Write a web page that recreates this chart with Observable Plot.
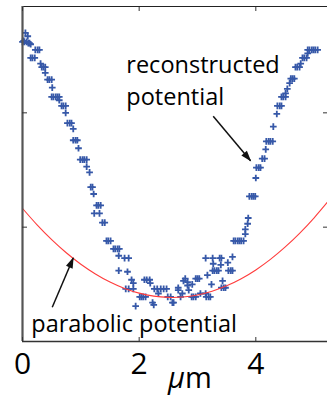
<!DOCTYPE html>
<html>
<head>
<meta charset="utf-8">
<script src="https://cdn.jsdelivr.net/npm/d3@7"></script>
<script src="https://cdn.jsdelivr.net/npm/@observablehq/plot@0.6"></script>
<style>
  html, body { margin: 0; padding: 0; background: #fff; overflow: hidden; }
  #chart svg { display: block; }
</style>
</head>
<body>
<div id="chart"></div>
<script>
// Reconstructed potential, sampled points [position (µm), potential (arb. units)]
const leftBranch = [
  [0.05,2.70],[0.09,2.67],[0.02,2.63],
  [0.00,2.62],[0.03,2.62],[0.07,2.62],
  [0.10,2.61],[0.12,2.61],[0.14,2.60],
  [0.22,2.55],[0.26,2.55],[0.29,2.55],
  [0.14,2.48],[0.17,2.48],[0.21,2.48],
  [0.31,2.43],
  [0.33,2.40],[0.36,2.40],[0.39,2.40],
  [0.39,2.35],
  [0.43,2.29],[0.46,2.29],[0.50,2.29],
  [0.51,2.22],
  [0.50,2.14],[0.53,2.14],[0.57,2.14],[0.60,2.14],[0.63,2.14],
  [0.63,2.11],
  [0.67,2.06],[0.70,2.06],[0.74,2.06],
  [0.74,2.00],
  [0.77,1.91],[0.81,1.91],[0.84,1.91],
  [0.87,1.86],
  [0.87,1.76],[0.91,1.76],[0.94,1.76],
  [0.96,1.69],
  [0.99,1.59],[1.03,1.59],[1.06,1.59],[1.10,1.59],
  [1.10,1.53],[1.15,1.48],
  [1.17,1.35],[1.20,1.35],
  [1.22,1.29],
  [1.27,1.19],[1.30,1.19],[1.34,1.19],
  [1.23,1.12],[1.32,1.12],
  [1.37,1.04],[1.41,1.04],
  [1.44,0.88],[1.47,0.88],[1.51,0.88],
  [1.56,0.81],[1.59,0.81],[1.63,0.81],[1.66,0.81],
  [1.65,0.75],[1.75,0.73],[1.82,0.73],
  [1.65,0.62],[1.80,0.61]
];
const bottomPoints = [
  [1.87,0.54],[1.90,0.51],
  [1.77,0.46],[1.82,0.46],[1.90,0.46],
  [2.09,0.54],[2.13,0.54],[2.18,0.54],[2.19,0.51],
  [2.01,0.39],[2.04,0.39],[2.07,0.39],[2.11,0.39],
  [1.94,0.31],[2.23,0.34],[2.25,0.32],
  [2.26,0.46],[2.31,0.46],[2.37,0.46],[2.42,0.46],[2.47,0.46],
  [2.33,0.42],[2.49,0.39],[2.54,0.39],[2.57,0.34],[2.59,0.34],
  [2.67,0.47],[2.67,0.45],[2.71,0.39],[2.74,0.42],
  [2.76,0.53],[2.79,0.55],[2.83,0.52],[2.83,0.49],[2.85,0.45],
  [2.90,0.39],[2.93,0.39],[2.97,0.39],
  [2.97,0.55],[3.00,0.55],[3.03,0.55],
  [2.91,0.50],[3.05,0.42],[3.14,0.42],
  [3.15,0.39],[3.19,0.39],[3.22,0.39],
  [3.17,0.58],[3.24,0.50],
  [3.41,0.47],[3.45,0.47],[3.48,0.47],[3.43,0.53]
];
const rightBranch = [
  [3.14,0.73],[3.26,0.73],[3.38,0.73],[3.41,0.73],
  [3.27,0.68],[3.40,0.67],[3.52,0.69],[3.60,0.74],
  [3.26,0.62],[3.29,0.62],[3.33,0.62],[3.36,0.62],
  [3.53,0.62],[3.57,0.62],[3.60,0.62],
  [3.62,0.88],[3.65,0.88],[3.69,0.88],[3.72,0.88],[3.75,0.88],[3.79,0.88],
  [3.82,0.94],[3.82,0.98],[3.86,1.03],[3.87,1.08],
  [3.89,1.27],[3.93,1.27],[3.96,1.27],[3.99,1.27],
  [4.00,1.43],
  [4.01,1.52],[4.05,1.52],[4.08,1.52],
  [4.11,1.60],[4.15,1.60],
  [4.17,1.68],
  [4.18,1.75],[4.22,1.75],[4.25,1.75],[4.29,1.75],
  [4.30,1.88],[4.36,1.99],
  [4.37,2.06],[4.41,2.06],[4.44,2.06],
  [4.44,2.14],[4.47,2.14],[4.51,2.14],
  [4.51,2.17],[4.54,2.21],[4.58,2.26],
  [4.60,2.30],[4.63,2.30],[4.66,2.30],
  [4.68,2.40],[4.71,2.40],[4.75,2.40],
  [4.77,2.43],
  [4.80,2.48],[4.83,2.48],[4.87,2.48],
  [4.89,2.52],
  [4.89,2.55],[4.92,2.55],[4.96,2.55],[4.99,2.55],[5.02,2.55],[5.06,2.55]
];

// Parabolic potential fit
const parabolaX = [0, 0.25, 0.5, 0.75, 1.0, 1.25, 1.5, 1.75, 2.0, 2.25, 2.5, 2.75,
                   3.0, 3.25, 3.5, 3.75, 4.0, 4.25, 4.5, 4.75, 5.0, 5.25];
const parabolaY = [1.164, 1.020, 0.891, 0.776, 0.676, 0.591, 0.520, 0.464, 0.423, 0.397, 0.386, 0.389,
                   0.407, 0.440, 0.487, 0.549, 0.626, 0.718, 0.825, 0.946, 1.082, 1.232];

const xTicks = [0, 2, 4];
const yTicks = [0, 1, 2];
const xDomain = [0, 5.229];
const yDomain = [0, 2.93];

const reconstructed = [...leftBranch, ...bottomPoints, ...rightBranch];
const parabola = parabolaX.map((x, i) => ({x, y: parabolaY[i]}));

const annotations = [
  {text: "reconstructed\npotential", x: 1.78, y: 2.545},
  {text: "parabolic potential", x: 0.15, y: 0.285}
];
const pointers = [
  {x1: 3.27, y1: 1.97, x2: 3.91, y2: 1.58},
  {x1: 0.51, y1: 0.30, x2: 0.87, y2: 0.73}
];

const font = "'Open Sans', 'DejaVu Sans', sans-serif";

const chart = Plot.plot({
  width: 327,
  height: 395,
  marginTop: 6,
  marginRight: 0,
  marginBottom: 54,
  marginLeft: 22,
  style: {fontFamily: font, background: "#fff", color: "#000", overflow: "visible"},
  x: {domain: xDomain},
  y: {domain: yDomain},
  marks: [
    Plot.dot(reconstructed, {
      x: d => d[0], y: d => d[1], symbol: "plus", r: 2.3,
      stroke: "#3658a8", strokeWidth: 1.8
    }),
    Plot.line(parabola, {x: "x", y: "y", stroke: "#ff3c3c", strokeWidth: 1.1, curve: "natural"}),
    // frame: bottom, top and left spines
    Plot.ruleY([yDomain[0]], {stroke: "#333", strokeWidth: 1.5}),
    Plot.ruleY([yDomain[1]], {stroke: "#222", strokeWidth: 1}),
    Plot.ruleX([xDomain[0]], {stroke: "#555", strokeWidth: 2.2}),
    // inward ticks
    Plot.axisX({anchor: "bottom", ticks: xTicks, tickSize: -4, tickFormat: () => "", label: null, stroke: "#333"}),
    Plot.axisX({anchor: "top", ticks: xTicks, tickSize: -4, tickFormat: () => "", label: null, stroke: "#333"}),
    Plot.axisY({anchor: "left", ticks: yTicks, tickSize: -5, tickFormat: () => "", label: null, stroke: "#333"}),
    Plot.axisY({anchor: "right", ticks: yTicks, tickSize: -5, tickFormat: () => "", label: null, stroke: "#333"}),
    // x tick labels
    Plot.axisX({anchor: "bottom", ticks: xTicks, tickSize: 0, tickPadding: 11, fontSize: 30,
                tickFormat: d => String(d), label: null, fill: "#000"}),
    // annotations
    Plot.text(annotations, {
      x: "x", y: "y", text: "text", textAnchor: "start", lineAnchor: "top",
      lineHeight: 1.36, fontSize: 23.5, fill: "#000"
    }),
    Plot.link(pointers, {
      x1: "x1", y1: "y1", x2: "x2", y2: "y2",
      stroke: "#111", strokeWidth: 1.5, markerEnd: "arrow"
    })
  ]
});

document.getElementById("chart").appendChild(chart);

// solid triangular arrowheads
d3.select(chart).selectAll("marker").each(function () {
  const m = d3.select(this);
  m.attr("viewBox", "-11 -5 13 10")
   .attr("markerWidth", 13)
   .attr("markerHeight", 10)
   .attr("markerUnits", "userSpaceOnUse")
   .attr("fill", "#111")
   .attr("stroke", "none");
  m.select("path").attr("d", "M-10,-3.6L1,0L-10,3.6Z");
});

// x-axis unit label with italic mu
const unit = d3.select(chart).append("text")
  .attr("x", 190)
  .attr("y", 388)
  .attr("text-anchor", "middle")
  .attr("font-size", 29)
  .attr("font-family", font)
  .attr("fill", "#000");
unit.append("tspan").attr("font-style", "italic").text("μ");
unit.append("tspan").text("m");
</script>
</body>
</html>
